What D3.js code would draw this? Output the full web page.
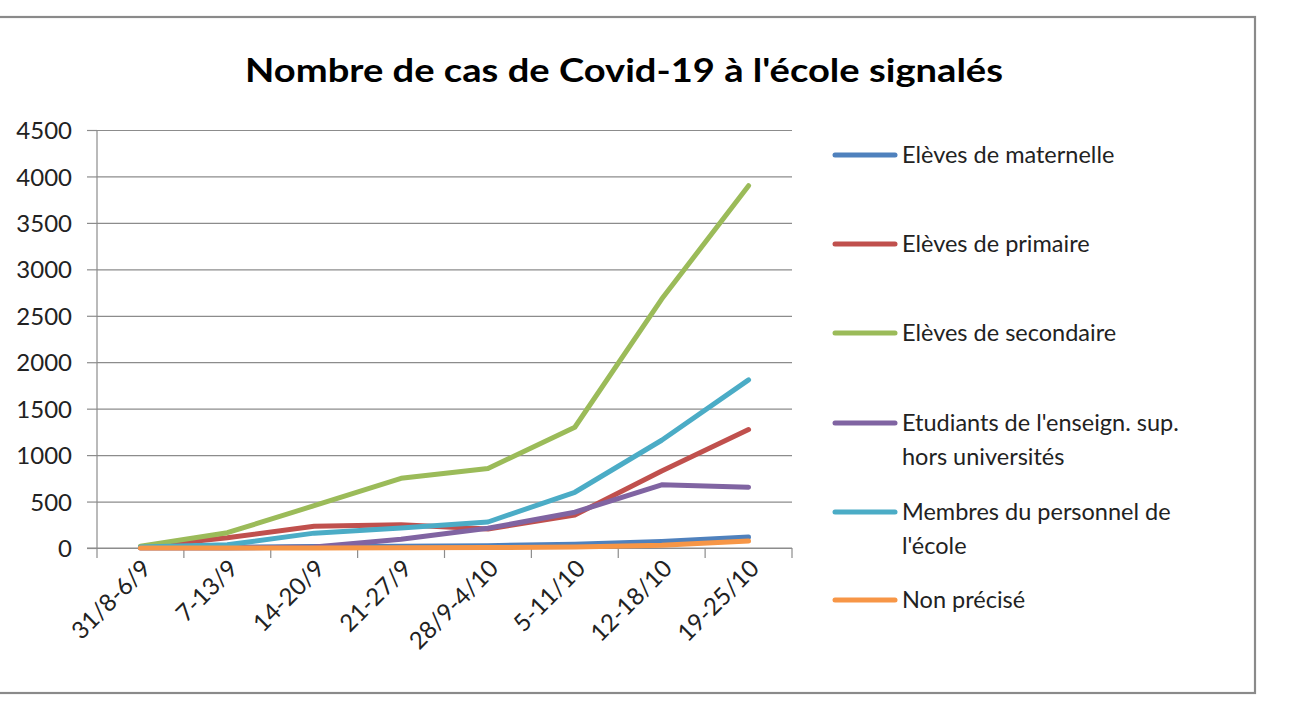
<!DOCTYPE html>
<html>
<head>
<meta charset="utf-8">
<script src="https://cdn.jsdelivr.net/npm/d3@7"></script>
<style>
  html, body { margin: 0; padding: 0; background: #fff; }
  svg { display: block; font-family: Lato, "Open Sans", sans-serif; }
  .grid line { stroke: #8c8c8c; stroke-width: 1.2; }
  .grid path { display: none; }
  .axis path, .axis line { stroke: #8c8c8c; stroke-width: 1.2; }
  .axis text { fill: #222; font-size: 24px; font-family: Lato, "Open Sans", sans-serif; }
  .legend text { fill: #222; font-size: 23.5px; }
</style>
</head>
<body>
<div id="chart"></div>
<script>
// Data
var categories = ["31/8-6/9", "7-13/9", "14-20/9", "21-27/9", "28/9-4/10", "5-11/10", "12-18/10", "19-25/10"];
var yTicks = [0, 500, 1000, 1500, 2000, 2500, 3000, 3500, 4000, 4500];

var maternelle = [5, 10, 15, 20, 25, 40, 70, 118];
var primaire = [10, 110, 235, 250, 205, 355, 830, 1275];
var secondaire = [20, 165, 455, 750, 855, 1300, 2680, 3900];
var etudiants = [0, 0, 10, 95, 212, 385, 680, 655];
var personnel = [10, 35, 160, 215, 280, 600, 1160, 1810];
var nonPrecise = [0, 0, 0, 2, 5, 10, 30, 75];

var seriesNames = [
  ["Elèves de maternelle"],
  ["Elèves de primaire"],
  ["Elèves de secondaire"],
  ["Etudiants de l'enseign. sup.", "hors universités"],
  ["Membres du personnel de", "l'école"],
  ["Non précisé"]
];
var seriesValues = [maternelle, primaire, secondaire, etudiants, personnel, nonPrecise];
var seriesColors = ["#4f81bd", "#c0504d", "#9bbb59", "#8064a2", "#4bacc6", "#f79646"];

var title = "Nombre de cas de Covid-19 à l'école signalés";

var render = function() {
  var width = 1300;
  var height = 704;

  var plot = { left: 97, right: 792, top: 130, bottom: 548 };

  var svg = d3.select("#chart")
    .append("svg")
    .attr("width", width)
    .attr("height", height);

  // Chart frame
  svg.append("rect")
    .attr("x", -4)
    .attr("y", 17)
    .attr("width", 1259)
    .attr("height", 676)
    .attr("fill", "#fff")
    .attr("stroke", "#8a8a8a")
    .attr("stroke-width", 2.2);

  // Title
  svg.append("text")
    .attr("x", 624)
    .attr("y", 82)
    .attr("text-anchor", "middle")
    .attr("font-weight", "bold")
    .attr("font-size", 33)
    .attr("fill", "#000")
    .attr("textLength", 758)
    .attr("lengthAdjust", "spacingAndGlyphs")
    .text(title);

  var xScale = d3.scaleBand()
    .domain(categories)
    .range([plot.left, plot.right])
    .padding(0);

  var xCenter = function(c) {
    return xScale(c) + xScale.bandwidth() / 2;
  };

  var yScale = d3.scaleLinear()
    .domain([0, 4500])
    .range([plot.bottom, plot.top]);

  // Grid
  svg.append("g")
    .attr("class", "grid")
    .attr("transform", "translate(" + plot.left + ",0)")
    .call(d3.axisLeft(yScale).tickValues(yTicks).tickSize(-(plot.right - plot.left)).tickFormat(""));

  // Y axis
  var yAxis = svg.append("g")
    .attr("class", "axis y")
    .attr("transform", "translate(" + plot.left + ",0)")
    .call(d3.axisLeft(yScale).tickValues(yTicks).tickSize(10).tickPadding(15).tickFormat(d3.format("d")));
  yAxis.attr("font-family", null).attr("font-size", null);
  yAxis.select(".domain").attr("d", "M0," + plot.top + "V" + plot.bottom);
  yAxis.selectAll(".tick text").attr("dy", "0.36em");

  // X axis: ticks between categories
  var xAxis = svg.append("g")
    .attr("class", "axis x")
    .attr("transform", "translate(0," + plot.bottom + ")");
  xAxis.append("line")
    .attr("x1", plot.left - 10)
    .attr("x2", plot.right)
    .attr("y1", 0)
    .attr("y2", 0);
  xAxis.selectAll("line.tick")
    .data(categories.concat(["end"]))
    .enter()
    .append("line")
    .attr("class", "tick")
    .attr("x1", function(d, i) { return i < categories.length ? xScale(d) : plot.right; })
    .attr("x2", function(d, i) { return i < categories.length ? xScale(d) : plot.right; })
    .attr("y1", 0)
    .attr("y2", 10);
  xAxis.selectAll("text")
    .data(categories)
    .enter()
    .append("text")
    .attr("text-anchor", "end")
    .attr("transform", function(d) {
      return "translate(" + (xCenter(d) + 6) + ",16) rotate(-45)";
    })
    .attr("dy", "0.35em")
    .text(function(d) { return d; });

  // Lines
  var line = d3.line()
    .x(function(d, i) { return xCenter(categories[i]); })
    .y(function(d) { return yScale(d); });

  svg.append("g")
    .attr("class", "lines")
    .selectAll("path")
    .data(seriesValues)
    .enter()
    .append("path")
    .attr("d", function(d) { return line(d); })
    .attr("fill", "none")
    .attr("stroke", function(d, i) { return seriesColors[i]; })
    .attr("stroke-width", 5)
    .attr("stroke-linejoin", "round")
    .attr("stroke-linecap", "round");

  // Legend
  var legendY = [155, 244, 333, 423, 512, 600];
  var legend = svg.append("g")
    .attr("class", "legend")
    .selectAll("g")
    .data(seriesNames)
    .enter()
    .append("g")
    .attr("transform", function(d, i) { return "translate(835," + legendY[i] + ")"; });

  legend.append("line")
    .attr("x1", 0)
    .attr("x2", 60)
    .attr("stroke", function(d, i) { return seriesColors[i]; })
    .attr("stroke-width", 5)
    .attr("stroke-linecap", "round");

  legend.append("text")
    .attr("x", 67)
    .attr("y", 0)
    .selectAll("tspan")
    .data(function(d) { return d; })
    .enter()
    .append("tspan")
    .attr("x", 67)
    .attr("dy", function(d, i) { return i === 0 ? "0.36em" : 34; })
    .text(function(d) { return d; });
};

render();
</script>
</body>
</html>
